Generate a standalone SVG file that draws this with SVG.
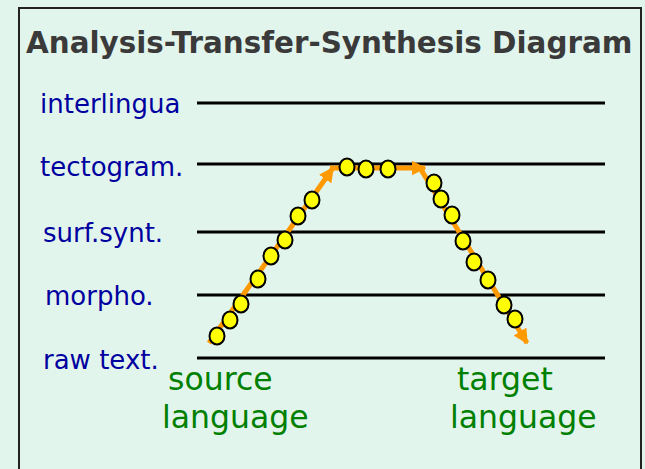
<svg xmlns="http://www.w3.org/2000/svg" width="645" height="469" viewBox="0 0 645 469">
<defs>
<style>
.lvl{stroke:#000;stroke-width:3;fill:none}
.lab{font-family:"DejaVu Sans",sans-serif;font-size:26px;fill:#0000a0}
.lang{font-family:"DejaVu Sans",sans-serif;font-size:31.5px;fill:#008000}
.arr{stroke:#ff9900;stroke-width:5;fill:none}
.dot{fill:#ffff00;stroke:#000;stroke-width:2}
</style>
<marker id="ah" viewBox="0 0 10 10" refX="9" refY="5" markerWidth="3" markerHeight="3" orient="auto" markerUnits="strokeWidth">
<path d="M0,0 L10,5 L0,10 z" fill="#ff9900"/>
</marker>
</defs>
<rect x="0" y="0" width="645" height="469" fill="#e2f5ec"/>
<rect x="19" y="8" width="622" height="470" fill="#e2f5ec" stroke="#222" stroke-width="2"/>
<text x="26" y="53" font-family="DejaVu Sans,sans-serif" font-weight="bold" font-size="29.4" fill="#3a3a3a">Analysis-Transfer-Synthesis Diagram</text>
<g id="levels">
<g id="interlingua"><line class="lvl" x1="197" y1="103" x2="605" y2="103"/><text class="lab" x="40" y="113">interlingua</text></g>
<g id="tectogram"><line class="lvl" x1="197" y1="164" x2="605" y2="164"/><text class="lab" x="40" y="176">tectogram.</text></g>
<g id="surfsynt"><line class="lvl" x1="197" y1="232" x2="605" y2="232"/><text class="lab" x="43" y="242">surf.synt.</text></g>
<g id="morpho"><line class="lvl" x1="197" y1="295" x2="605" y2="295"/><text class="lab" x="45" y="305">morpho.</text></g>
<g id="rawtext"><line class="lvl" x1="197" y1="358" x2="605" y2="358"/><text class="lab" x="43" y="369">raw text.</text></g>
</g>
<g id="source"><text class="lang" x="168" y="390">source</text><text class="lang" x="162" y="428">language</text></g>
<g id="target"><text class="lang" x="457" y="390">target</text><text class="lang" x="450" y="428">language</text></g>
<g id="connectors">
<line class="arr" x1="209" y1="343" x2="333" y2="168" marker-end="url(#ah)"/>
<line class="arr" x1="330" y1="168" x2="425" y2="168" marker-end="url(#ah)"/>
<line class="arr" x1="420" y1="168" x2="527" y2="343" marker-end="url(#ah)"/>
</g>
<g id="dots">
<ellipse class="dot" cx="217" cy="336" rx="7.5" ry="8.5"/>
<ellipse class="dot" cx="230" cy="320" rx="7.5" ry="8.5"/>
<ellipse class="dot" cx="241" cy="304" rx="7.5" ry="8.5"/>
<ellipse class="dot" cx="258" cy="279" rx="7.5" ry="8.5"/>
<ellipse class="dot" cx="271" cy="256" rx="7.5" ry="8.5"/>
<ellipse class="dot" cx="285" cy="240" rx="7.5" ry="8.5"/>
<ellipse class="dot" cx="298" cy="216" rx="7.5" ry="8.5"/>
<ellipse class="dot" cx="312" cy="200" rx="7.5" ry="8.5"/>
<ellipse class="dot" cx="347" cy="167" rx="7.5" ry="8.5"/>
<ellipse class="dot" cx="366" cy="169" rx="7.5" ry="8.5"/>
<ellipse class="dot" cx="388" cy="169" rx="7.5" ry="8.5"/>
<ellipse class="dot" cx="434" cy="183" rx="7.5" ry="8.5"/>
<ellipse class="dot" cx="441" cy="199" rx="7.5" ry="8.5"/>
<ellipse class="dot" cx="452" cy="215" rx="7.5" ry="8.5"/>
<ellipse class="dot" cx="463" cy="241" rx="7.5" ry="8.5"/>
<ellipse class="dot" cx="474" cy="262" rx="7.5" ry="8.5"/>
<ellipse class="dot" cx="488" cy="280" rx="7.5" ry="8.5"/>
<ellipse class="dot" cx="504" cy="305" rx="7.5" ry="8.5"/>
<ellipse class="dot" cx="515" cy="319" rx="7.5" ry="8.5"/>
</g>
</svg>
